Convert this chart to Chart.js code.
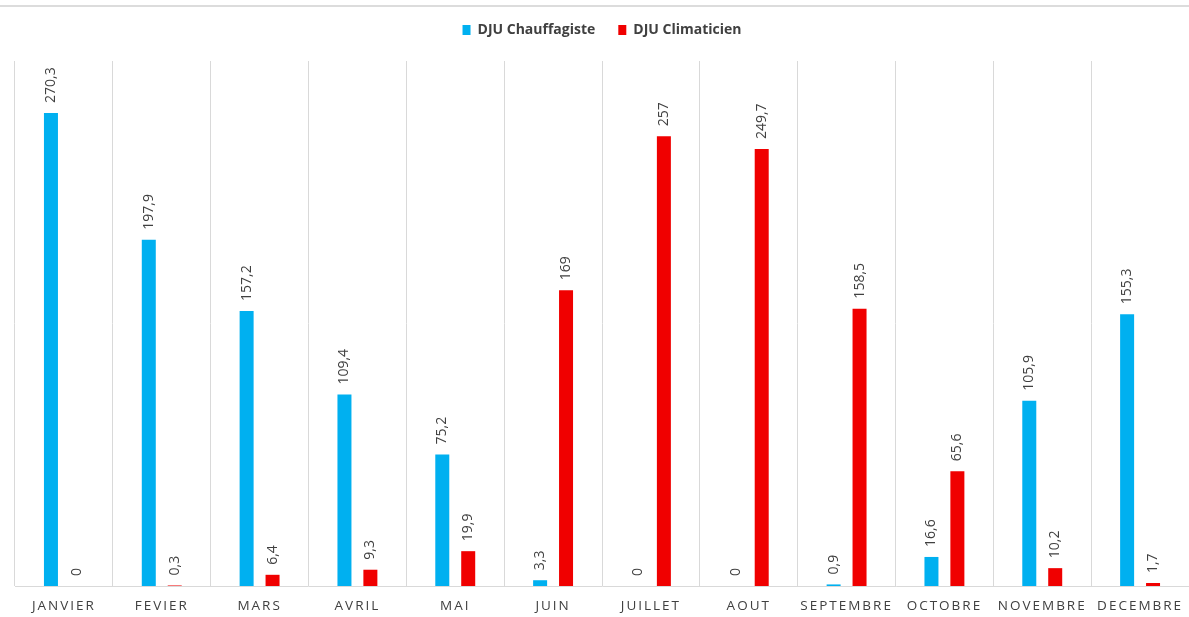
<!DOCTYPE html>
<html>
<head>
<meta charset="utf-8">
<script src="https://cdn.jsdelivr.net/npm/chart.js@4/dist/chart.umd.min.js"></script>
<style>
  html, body { margin: 0; padding: 0; background: #fff; overflow: hidden; }
  .wrap { position: relative; width: 1189px; height: 617px; }
  .topline { position: absolute; left: 0; top: 5px; width: 1189px; height: 0; border-top: 2px solid #dcdcdc; }
  canvas { display: block; }
</style>
</head>
<body>
<div class="wrap">
  <div class="topline"></div>
  <canvas id="djuChart" width="1189" height="617"></canvas>
</div>
<script>
const months = ['JANVIER', 'FEVIER', 'MARS', 'AVRIL', 'MAI', 'JUIN', 'JUILLET', 'AOUT', 'SEPTEMBRE', 'OCTOBRE', 'NOVEMBRE', 'DECEMBRE'];
const chauffagiste = [270.3, 197.9, 157.2, 109.4, 75.2, 3.3, 0, 0, 0.9, 16.6, 105.9, 155.3];
const climaticien = [0, 0.3, 6.4, 9.3, 19.9, 169, 257, 249.7, 158.5, 65.6, 10.2, 1.7];

// category axis whose labels get extra letter spacing
class SpacedCategory extends Chart.CategoryScale {
  drawLabels(area) {
    const ctx = this.ctx;
    ctx.save();
    ctx.letterSpacing = '2px';
    super.drawLabels(area);
    ctx.restore();
  }
}
SpacedCategory.id = 'spacedCategory';
SpacedCategory.defaults = Chart.CategoryScale.defaults;
Chart.register(SpacedCategory);

// value labels written vertically above each bar
const barValues = {
  id: 'barValues',
  afterDatasetsDraw(chart) {
    const ctx = chart.ctx;
    ctx.save();
    ctx.font = '14px "Open Sans"';
    ctx.fillStyle = '#404040';
    ctx.textAlign = 'left';
    ctx.textBaseline = 'middle';
    chart.data.datasets.forEach((ds, i) => {
      chart.getDatasetMeta(i).data.forEach((bar, j) => {
        const txt = String(ds.data[j]).replace('.', ',');
        ctx.save();
        ctx.translate(bar.x, bar.y - 10);
        ctx.rotate(-Math.PI / 2);
        ctx.fillText(txt, 0, 0);
        ctx.restore();
      });
    });
    ctx.restore();
  }
};

// extra room under the legend
const legendGap = {
  id: 'legendGap',
  beforeInit(chart) {
    const fit = chart.legend.fit;
    chart.legend.fit = function () {
      fit.call(this);
      this.height += 14;
    };
  }
};

new Chart(document.getElementById('djuChart'), {
  type: 'bar',
  data: {
    labels: months,
    datasets: [
      {
        label: 'DJU Chauffagiste',
        data: chauffagiste,
        backgroundColor: '#00b0f0',
        categoryPercentage: 0.53,
        barPercentage: 0.54
      },
      {
        label: 'DJU Climaticien',
        data: climaticien,
        backgroundColor: '#f00000',
        categoryPercentage: 0.53,
        barPercentage: 0.54
      }
    ]
  },
  options: {
    responsive: false,
    animation: false,
    layout: { padding: { top: 0, left: 15, right: 0, bottom: 0 } },
    plugins: {
      legend: {
        position: 'top',
        labels: {
          boxWidth: 8,
          boxHeight: 10,
          padding: 23,
          color: '#404040',
          font: { family: '"Open Sans"', size: 14, weight: 'bold' }
        }
      },
      tooltip: { enabled: false }
    },
    scales: {
      x: {
        type: 'spacedCategory',
        afterFit(scale) { scale.height = 31; },
        grid: { color: '#d9d9d9', drawTicks: false, offset: true },
        border: { color: '#d9d9d9' },
        ticks: {
          color: '#404040',
          padding: 12,
          maxRotation: 0,
          autoSkip: false,
          font: { family: '"Open Sans"', size: 13.5 }
        }
      },
      y: {
        display: false,
        min: 0,
        max: 300
      }
    }
  },
  plugins: [barValues, legendGap]
});
</script>
</body>
</html>
